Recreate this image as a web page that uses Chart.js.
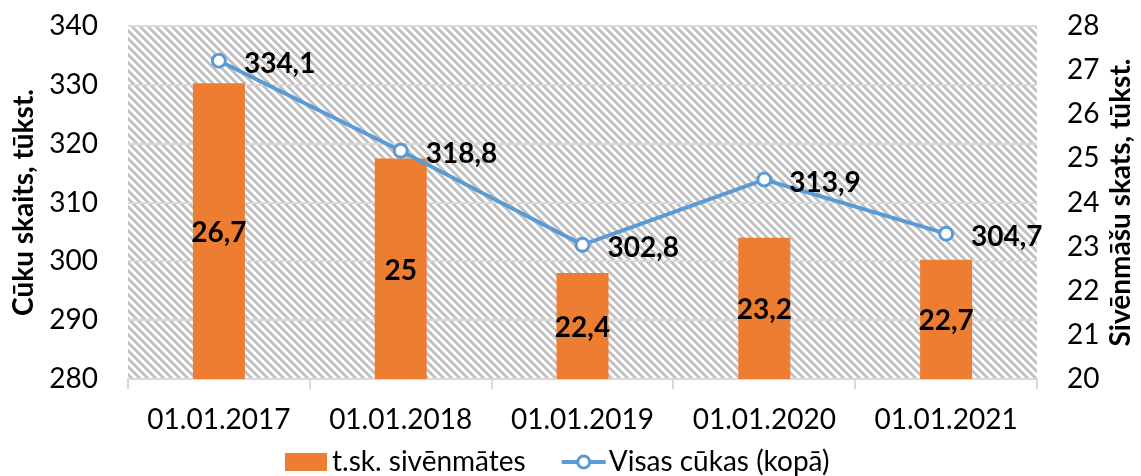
<!DOCTYPE html>
<html>
<head>
<meta charset="utf-8">
<script src="https://cdn.jsdelivr.net/npm/chart.js@4.4.1/dist/chart.umd.min.js"></script>
<style>
  html, body { margin: 0; padding: 0; background: #fff; }
  #wrap { width: 1141px; height: 476px; }
</style>
</head>
<body>
<div id="wrap"><canvas id="pigChart" width="1141" height="476"></canvas></div>
<script>
// chart data
const categories = ['01.01.2017', '01.01.2018', '01.01.2019', '01.01.2020', '01.01.2021'];
const sowValues = [26.7, 25, 22.4, 23.2, 22.7];           // t.sk. sivēnmātes (right axis)
const pigValues = [334.1, 318.8, 302.8, 313.9, 304.7];    // Visas cūkas (kopā) (left axis)
const sowLabel = 't.sk. sivēnmātes';
const pigLabel = 'Visas cūkas (kopā)';
const leftTitle = 'Cūku skaits, tūkst.';
const rightTitle = 'Sivēnmāšu skats, tūkst.';

const FONT = 'Lato, "Noto Sans", sans-serif';
const ORANGE = '#ED7D31';
const BLUE = '#5B9BD5';
const GRID = '#d9d9d9';

Chart.defaults.font.family = FONT;
Chart.defaults.color = '#000';

const fmt = v => String(v).replace('.', ',');

// diagonal hatch used as plot background
function makeHatch() {
    const c = document.createElement('canvas');
    c.width = 8; c.height = 8;
    const g = c.getContext('2d');
    g.fillStyle = '#fff';
    g.fillRect(0, 0, 8, 8);
    g.fillStyle = '#c2c2c2';
    for (let y = 0; y < 8; y++) {
        for (let x = 0; x < 8; x++) {
            if (((x - y) % 8 + 8) % 8 < 4) g.fillRect(x, y, 1, 1);
        }
    }
    return c;
}
const hatch = makeHatch();

const hatchBackground = {
    id: 'hatchBackground',
    beforeDraw(chart) {
        const {ctx, chartArea: a} = chart;
        ctx.save();
        ctx.fillStyle = ctx.createPattern(hatch, 'repeat');
        ctx.fillRect(a.left, a.top, a.right - a.left, a.bottom - a.top);
        ctx.restore();
    }
};

// value labels, right axis title and legend
const extras = {
    id: 'extras',
    afterDraw(chart) {
        const ctx = chart.ctx;
        const xs = chart.scales.x;
        const yl = chart.scales.yLeft;
        const yr = chart.scales.yRight;
        ctx.save();
        ctx.fillStyle = '#000';
        ctx.font = 'bold 28px ' + FONT;
        ctx.textBaseline = 'middle';

        // bar labels, centred in bars
        ctx.textAlign = 'center';
        sowValues.forEach((v, i) => {
            const top = yr.getPixelForValue(v);
            const base = yr.getPixelForValue(yr.min);
            ctx.fillText(fmt(v), xs.getPixelForValue(i), (top + base) / 2 + 2);
        });

        // line labels, right of points
        ctx.textAlign = 'left';
        pigValues.forEach((v, i) => {
            ctx.fillText(fmt(v), xs.getPixelForValue(i) + 25, yl.getPixelForValue(v) + 3);
        });

        // right axis title, reading bottom to top
        const a = chart.chartArea;
        ctx.save();
        ctx.translate(1121, (a.top + a.bottom) / 2);
        ctx.rotate(-Math.PI / 2);
        ctx.textAlign = 'center';
        ctx.fillText(rightTitle, 0, 0);
        ctx.restore();

        // legend
        const ly = 462;
        let x = 285;
        ctx.font = '28px ' + FONT;
        ctx.textAlign = 'left';
        ctx.fillStyle = ORANGE;
        ctx.fillRect(x, ly - 9, 42, 18);
        x += 47;
        ctx.fillStyle = '#000';
        ctx.fillText(sowLabel, x, ly);
        x += ctx.measureText(sowLabel).width + 36;
        ctx.strokeStyle = BLUE;
        ctx.lineWidth = 4;
        ctx.beginPath();
        ctx.moveTo(x, ly);
        ctx.lineTo(x + 44, ly);
        ctx.stroke();
        ctx.beginPath();
        ctx.arc(x + 22, ly, 6, 0, Math.PI * 2);
        ctx.fillStyle = '#fff';
        ctx.fill();
        ctx.lineWidth = 3;
        ctx.stroke();
        x += 47;
        ctx.fillStyle = '#000';
        ctx.fillText(pigLabel, x, ly);
        ctx.restore();
    }
};

function fixY(width) {
    return scale => {
        scale.width = width;
        scale.paddingTop = 0;
        scale.paddingBottom = 0;
    };
}

const ctx = document.getElementById('pigChart').getContext('2d');
const myChart = new Chart(ctx, {
    data: {
        labels: categories,
        datasets: [
            {
                type: 'line',
                label: pigLabel,
                data: pigValues,
                yAxisID: 'yLeft',
                borderColor: BLUE,
                borderWidth: 4,
                pointRadius: 6.5,
                pointBorderWidth: 3,
                pointBackgroundColor: '#fff',
                pointBorderColor: BLUE,
                tension: 0,
                order: 0
            },
            {
                type: 'bar',
                label: sowLabel,
                data: sowValues,
                yAxisID: 'yRight',
                backgroundColor: ORANGE,
                categoryPercentage: 1,
                barPercentage: 0.286,
                order: 1
            }
        ]
    },
    options: {
        responsive: false,
        animation: false,
        devicePixelRatio: 1,
        layout: { padding: { top: 26, left: 0, right: 0, bottom: 0 } },
        plugins: {
            legend: { display: false },
            tooltip: { enabled: false }
        },
        scales: {
            x: {
                offset: true,
                grid: {
                    offset: true,
                    drawOnChartArea: false,
                    drawTicks: true,
                    tickLength: 10,
                    color: GRID,
                    lineWidth: 2
                },
                border: { display: true, color: GRID, width: 2 },
                ticks: { font: { size: 28 }, padding: 14, maxRotation: 0 },
                afterFit(scale) {
                    scale.height = 97;
                    scale.paddingLeft = 0;
                    scale.paddingRight = 0;
                }
            },
            yLeft: {
                position: 'left',
                min: 280,
                max: 340,
                ticks: { stepSize: 10, font: { size: 28 }, padding: 30 },
                grid: { color: GRID, lineWidth: 2, drawTicks: false },
                border: { display: false },
                title: {
                    display: true,
                    text: leftTitle,
                    font: { size: 28, weight: 'bold' },
                    padding: { top: 7, bottom: 0 }
                },
                afterFit: fixY(128)
            },
            yRight: {
                position: 'right',
                min: 20,
                max: 28,
                ticks: { stepSize: 1, font: { size: 28 }, padding: 30 },
                grid: { display: false, drawTicks: false },
                border: { display: false },
                afterFit: fixY(104)
            }
        }
    },
    plugins: [hatchBackground, extras]
});
</script>
</body>
</html>
